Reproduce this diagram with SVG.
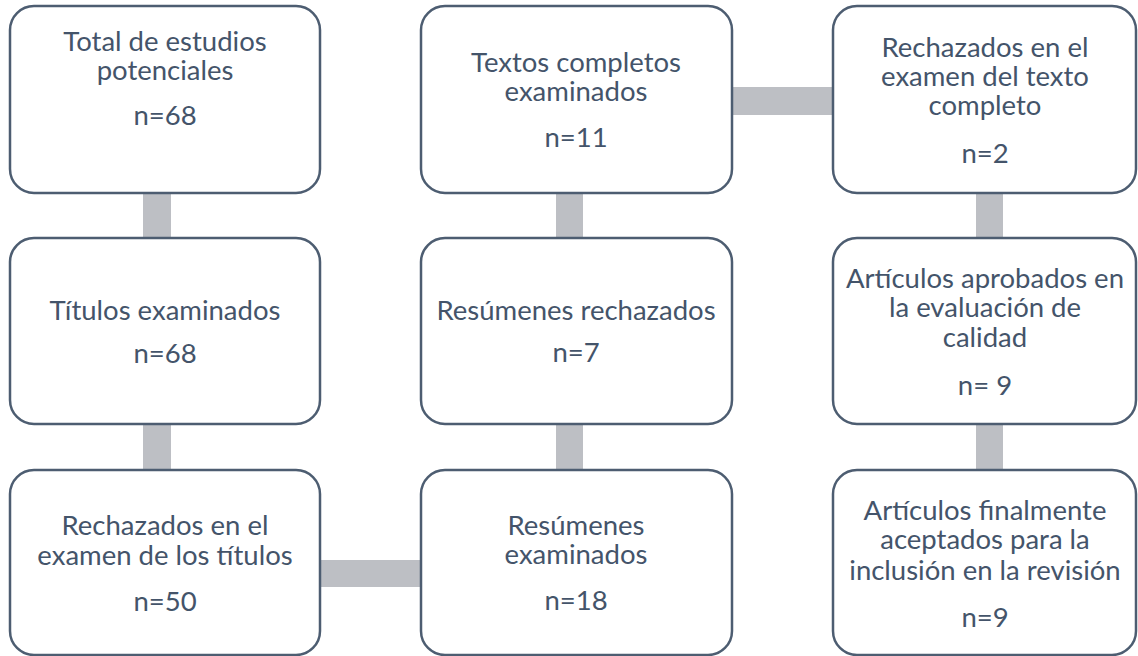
<svg xmlns="http://www.w3.org/2000/svg" width="1138" height="656" viewBox="0 0 1138 656">
<style>
.box{fill:#ffffff;stroke:#4d5d71;stroke-width:2.5}
.conn{fill:#bdbfc4}
text{font-family:Lato,"Open Sans","Liberation Sans",sans-serif;font-size:27.5px;fill:#44546a;text-anchor:middle}
</style>
<rect width="1138" height="656" fill="#ffffff"/>
<g id="connectors">
<rect class="conn" x="143" y="193" width="28" height="45"/>
<rect class="conn" x="143" y="424" width="28" height="46"/>
<rect class="conn" x="320" y="560" width="101" height="27"/>
<rect class="conn" x="556" y="424" width="27" height="46"/>
<rect class="conn" x="556" y="193" width="27" height="45"/>
<rect class="conn" x="732" y="87" width="101" height="28"/>
<rect class="conn" x="976" y="193" width="27" height="45"/>
<rect class="conn" x="976" y="424" width="27" height="46"/>
</g>
<g id="n1">
<rect class="box" x="10" y="6" width="310" height="187" rx="24"/>
<text x="165" y="51">Total de estudios</text>
<text x="165" y="80">potenciales</text>
<text x="165" y="125">n=68</text>
</g>
<g id="n2">
<rect class="box" x="10" y="238" width="310" height="186" rx="24"/>
<text x="165" y="320">Títulos examinados</text>
<text x="165" y="363">n=68</text>
</g>
<g id="n3">
<rect class="box" x="10" y="470" width="310" height="185" rx="24"/>
<text x="165" y="535">Rechazados en el</text>
<text x="165" y="565">examen de los títulos</text>
<text x="165" y="611">n=50</text>
</g>
<g id="n4">
<rect class="box" x="421" y="470" width="311" height="185" rx="24"/>
<text x="576" y="535">Resúmenes</text>
<text x="576" y="564">examinados</text>
<text x="576" y="610">n=18</text>
</g>
<g id="n5">
<rect class="box" x="421" y="238" width="311" height="186" rx="24"/>
<text x="576" y="320">Resúmenes rechazados</text>
<text x="576" y="362">n=7</text>
</g>
<g id="n6">
<rect class="box" x="421" y="6" width="311" height="187" rx="24"/>
<text x="576" y="72">Textos completos</text>
<text x="576" y="101">examinados</text>
<text x="576" y="147">n=11</text>
</g>
<g id="n7">
<rect class="box" x="833" y="6" width="303" height="187" rx="24"/>
<text x="985" y="57">Rechazados en el</text>
<text x="985" y="86">examen del texto</text>
<text x="985" y="115">completo</text>
<text x="985" y="163">n=2</text>
</g>
<g id="n8">
<rect class="box" x="833" y="238" width="303" height="186" rx="24"/>
<text x="985" y="288">Artículos aprobados en</text>
<text x="985" y="317">la evaluación de</text>
<text x="985" y="347">calidad</text>
<text x="985" y="395">n= 9</text>
</g>
<g id="n9">
<rect class="box" x="833" y="470" width="303" height="185" rx="24"/>
<text x="985" y="520">Artículos finalmente</text>
<text x="985" y="549">aceptados para la</text>
<text x="985" y="580">inclusión en la revisión</text>
<text x="985" y="627">n=9</text>
</g>
</svg>
